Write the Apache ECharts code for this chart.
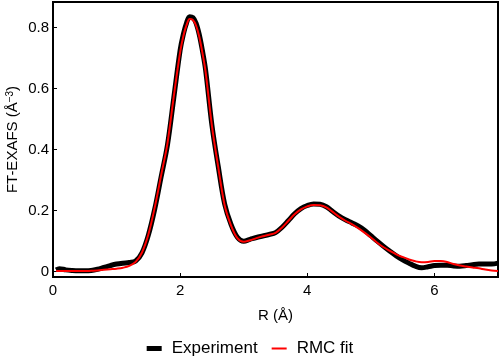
<!DOCTYPE html>
<html>
<head>
<meta charset="utf-8">
<script src="https://cdn.jsdelivr.net/npm/echarts@6/dist/echarts.min.js"></script>
<style>html,body{margin:0;padding:0;background:#fff}#c{width:500px;height:362px}</style>
</head>
<body>
<div id="c"></div>
<script>
var rValues = [0.05,0.1,0.2,0.3,0.4,0.5,0.6,0.7,0.8,0.9,1.0,1.1,1.2,1.3,1.4,1.5,1.6,1.7,1.8,1.9,2.0,2.05,2.1,2.15,2.2,2.25,2.3,2.35,2.4,2.5,2.6,2.7,2.8,2.9,3.0,3.1,3.2,3.3,3.4,3.5,3.6,3.7,3.8,3.9,4.0,4.1,4.2,4.3,4.4,4.5,4.6,4.7,4.8,4.9,5.0,5.1,5.2,5.3,5.4,5.5,5.6,5.7,5.8,5.9,6.0,6.1,6.2,6.3,6.4,6.5,6.6,6.7,6.8,6.9,7.0];
var experiment = [0.006,0.010,0.006,0.004,0.003,0.003,0.004,0.008,0.014,0.020,0.025,0.028,0.030,0.035,0.062,0.120,0.205,0.310,0.415,0.570,0.726,0.778,0.815,0.836,0.833,0.815,0.778,0.725,0.662,0.480,0.344,0.222,0.155,0.113,0.100,0.106,0.112,0.117,0.122,0.128,0.145,0.167,0.190,0.207,0.217,0.222,0.221,0.213,0.197,0.182,0.170,0.160,0.150,0.136,0.118,0.100,0.083,0.067,0.052,0.039,0.028,0.018,0.013,0.016,0.020,0.021,0.021,0.019,0.018,0.020,0.023,0.025,0.025,0.025,0.028];
var rmcFit = [0.002,0.002,0.002,0.002,0.002,0.002,0.003,0.004,0.006,0.008,0.010,0.013,0.019,0.032,0.063,0.122,0.210,0.315,0.420,0.575,0.720,0.772,0.808,0.828,0.825,0.807,0.771,0.718,0.656,0.478,0.342,0.218,0.152,0.110,0.098,0.103,0.110,0.116,0.121,0.127,0.144,0.166,0.188,0.204,0.214,0.219,0.218,0.211,0.196,0.180,0.167,0.156,0.143,0.128,0.112,0.095,0.080,0.068,0.057,0.048,0.040,0.034,0.031,0.032,0.035,0.035,0.032,0.025,0.020,0.017,0.014,0.011,0.007,0.004,0.002];
var xTicks = [0,2,4,6];
var yTicks = [0,0.2,0.4,0.6,0.8];

function pairs(ys){ return rValues.map(function(x,i){ return [x, ys[i]]; }); }

var font = 'Liberation Sans, Arial, sans-serif';
var chart = echarts.init(document.getElementById('c'), null, {renderer:'canvas'});
chart.setOption({
  animation: false,
  grid: {left: 53, right: 2, top: 2, bottom: 85, show: true, borderColor: '#000', borderWidth: 2,
    backgroundColor: 'transparent', containLabel: false, outerBoundsMode: 'none'},
  legend: {
    top: 335, left: 'center', itemWidth: 15, itemHeight: 5, itemGap: 14, symbolKeepAspect: true,
    textStyle: {fontFamily: font, fontSize: 17, color: '#000', padding: [0,0,0,5]},
    data: [
      {name: 'Experiment', icon: 'path://M0,0H15V5H0Z', itemStyle: {color: '#000'}},
      {name: 'RMC fit', icon: 'path://M0,0H15V2H0Z', itemStyle: {color: '#ff0000'}}
    ]
  },
  xAxis: {
    type: 'value', min: 0, max: 7,
    name: 'R (Å)', nameLocation: 'middle', nameGap: 31, nameMoveOverlap: false,
    nameTextStyle: {fontFamily: font, fontSize: 15, color: '#000'},
    axisLine: {show: true, onZero: false, lineStyle: {color: '#000', width: 2}},
    axisTick: {show: true, inside: true, length: 4, customValues: xTicks, lineStyle: {color: '#000', width: 1}},
    axisLabel: {fontFamily: font, fontSize: 15, color: '#000', margin: 6, customValues: xTicks},
    splitLine: {show: false}
  },
  yAxis: {
    type: 'value', min: -0.0174, max: 0.884,
    name: 'FT-EXAFS (Å{sup|−3})', nameLocation: 'middle', nameGap: 32, nameMoveOverlap: false,
    nameTextStyle: {fontFamily: font, fontSize: 15, color: '#000',
      rich: {sup: {fontFamily: font, fontSize: 10, color: '#000', verticalAlign: 'top', padding: [0,0,6,0]}}},
    axisLine: {show: true, onZero: false, lineStyle: {color: '#000', width: 2}},
    axisTick: {show: true, inside: true, length: 4, customValues: yTicks, lineStyle: {color: '#000', width: 1}},
    axisLabel: {fontFamily: font, fontSize: 15, color: '#000', margin: 4, customValues: yTicks,
      formatter: function(v){ return String(Math.round(v*10)/10); }},
    splitLine: {show: false}
  },
  series: [
    {name: 'Experiment', type: 'line', data: pairs(experiment), smooth: 0.35, symbol: 'none',
      lineStyle: {color: '#000', width: 5}, itemStyle: {color: '#000'}},
    {name: 'RMC fit', type: 'line', data: pairs(rmcFit), smooth: 0.35, symbol: 'none',
      lineStyle: {color: '#ff0000', width: 2}, itemStyle: {color: '#ff0000'}}
  ]
});
</script>
</body>
</html>
